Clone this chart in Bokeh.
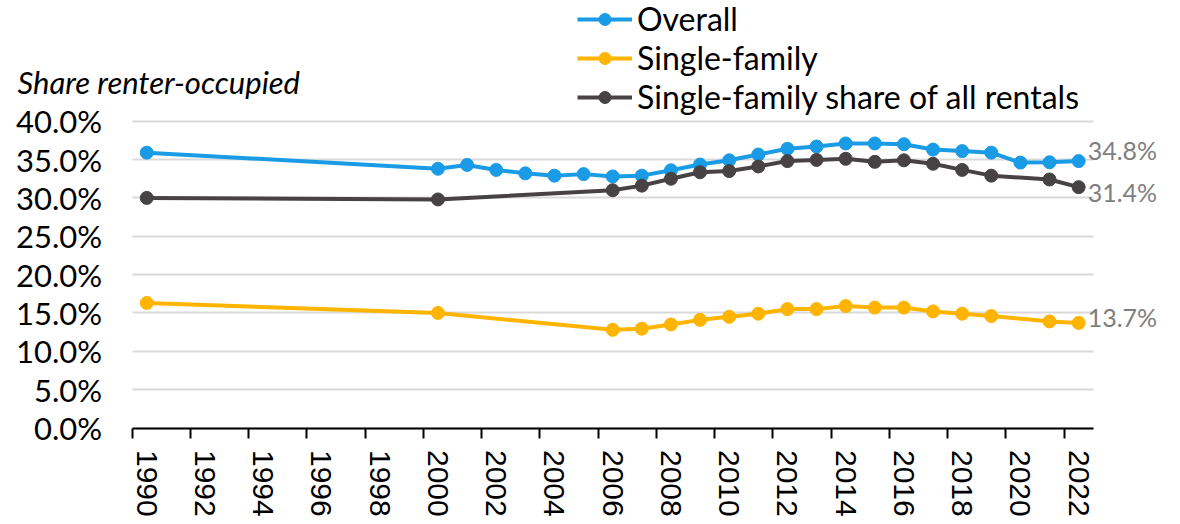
from bokeh.plotting import figure
from bokeh.models import (ColumnDataSource, FixedTicker, PrintfTickFormatter,
                          Legend, LegendItem, Label, Range1d)
from bokeh.embed import file_html
from bokeh.resources import INLINE

# ---- data ----
overall_years = [1990, 2000, 2001, 2002, 2003, 2004, 2005, 2006, 2007, 2008, 2009,
                 2010, 2011, 2012, 2013, 2014, 2015, 2016, 2017, 2018, 2019, 2020,
                 2021, 2022]
overall = [35.9, 33.8, 34.3, 33.65, 33.2, 32.9, 33.1, 32.8, 32.9, 33.6, 34.35,
           34.9, 35.65, 36.4, 36.7, 37.1, 37.1, 37.0, 36.3, 36.1, 35.9, 34.6,
           34.65, 34.8]

sf_years = [1990, 2000, 2006, 2007, 2008, 2009, 2010, 2011, 2012, 2013, 2014,
            2015, 2016, 2017, 2018, 2019, 2021, 2022]
single_family = [16.3, 15.0, 12.8, 12.95, 13.5, 14.1, 14.5, 14.9, 15.5, 15.5,
                 15.9, 15.7, 15.7, 15.2, 14.9, 14.6, 13.9, 13.7]
sf_share = [30.0, 29.8, 31.0, 31.6, 32.5, 33.35, 33.5, 34.1, 34.8, 34.95, 35.1,
            34.7, 34.9, 34.45, 33.65, 32.9, 32.4, 31.4]

x_tick_years = list(range(1990, 2023, 2))
x_tick_marks = [y - 0.5 for y in x_tick_years]
x_bounds = (1989.5, 2022.5)
y_ticks = [0, 5, 10, 15, 20, 25, 30, 35, 40]

series_names = ["Overall", "Single-family", "Single-family share of all rentals"]
colors = ["#1A9BE6", "#FFB400", "#474344"]
title_text = "Share renter-occupied"

FONT = "Lato"

# ---- layout geometry (pixels inside the canvas) ----
W, H = 1176, 520
AX_LEFT_PX, AX_RIGHT_PX = 131.7, 1092.7   # x-axis line ends
Y40_PX, Y0_PX = 120.7, 427.5              # rows of the 40% line and of the axis

x_scale = (AX_RIGHT_PX - AX_LEFT_PX) / (x_bounds[1] - x_bounds[0])
x_start = x_bounds[0] - AX_LEFT_PX / x_scale
x_end = x_bounds[1] + (W - AX_RIGHT_PX) / x_scale
y_scale = (Y0_PX - Y40_PX) / 40.0
y_end = 40 + Y40_PX / y_scale
y_start = -(H - Y0_PX) / y_scale

p = figure(width=W, height=H, output_backend="svg", toolbar_location=None,
           x_range=Range1d(x_start, x_end), y_range=Range1d(y_start, y_end),
           min_border_left=0, min_border_right=0, min_border_top=0,
           min_border_bottom=0)
p.outline_line_color = None
p.background_fill_color = "white"
p.border_fill_color = "white"

# grid
p.xgrid.grid_line_color = None
p.ygrid.ticker = FixedTicker(ticks=y_ticks)
p.ygrid.grid_line_color = "#D9D9D9"
p.ygrid.grid_line_width = 2
try:
    p.ygrid.cross_bounds = x_bounds
except Exception:
    p.ygrid.grid_line_color = None
    p.segment(x0=[x_bounds[0]] * len(y_ticks), x1=[x_bounds[1]] * len(y_ticks),
              y0=y_ticks, y1=y_ticks, line_color="#D9D9D9", line_width=2)

# y axis, pinned to the left end of the x axis
p.yaxis.fixed_location = x_bounds[0]
p.yaxis.ticker = FixedTicker(ticks=y_ticks)
p.yaxis.formatter = PrintfTickFormatter(format="%.1f%%")
p.yaxis.axis_line_color = None
p.yaxis.major_tick_line_color = None
p.yaxis.minor_tick_line_color = None
p.yaxis.major_tick_out = 0
p.yaxis.major_tick_in = 0
p.yaxis.major_label_standoff = 30
p.yaxis.major_label_text_font = FONT
p.yaxis.major_label_text_font_size = "31px"
p.yaxis.major_label_text_color = "#000000"

# x axis, pinned at 0
p.xaxis.fixed_location = 0
p.xaxis.bounds = x_bounds
p.xaxis.ticker = FixedTicker(ticks=x_tick_years, minor_ticks=x_tick_marks)
p.xaxis.major_label_overrides = {y: str(y) for y in x_tick_years}
p.xaxis.axis_line_color = "#000000"
p.xaxis.axis_line_width = 2
p.xaxis.major_tick_line_color = None
p.xaxis.major_tick_out = 10
p.xaxis.major_tick_in = 0
p.xaxis.minor_tick_line_color = "#000000"
p.xaxis.minor_tick_line_width = 2
p.xaxis.minor_tick_out = 10
p.xaxis.minor_tick_in = 0
p.xaxis.major_label_orientation = "vertical"
p.xaxis.major_label_standoff = 12
p.xaxis.major_label_text_font = "Liberation Sans"
p.xaxis.major_label_text_font_size = "30px"
p.xaxis.major_label_text_color = "#000000"

# series
srcs = [
    ColumnDataSource(dict(x=overall_years, y=overall)),
    ColumnDataSource(dict(x=sf_years, y=single_family)),
    ColumnDataSource(dict(x=sf_years, y=sf_share)),
]
items = []
for src, name, col in zip(srcs, series_names, colors):
    ln = p.line("x", "y", source=src, line_color=col, line_width=4)
    sc = p.scatter("x", "y", source=src, size=13, fill_color=col, line_color=col)
    items.append(LegendItem(label=name, renderers=[ln, sc]))

legend = Legend(items=items, location=(577, H - 116), orientation="vertical",
                label_text_font=FONT, label_text_font_size="32px",
                label_text_color="#000000", glyph_width=55, glyph_height=30,
                label_height=30, spacing=-5, padding=0, margin=0,
                border_line_color=None, background_fill_alpha=0,
                label_standoff=5)
p.add_layout(legend, "center")

# end labels
end_offsets = [11, 6, -5]
for xs, ys, dy in [(overall_years, overall, end_offsets[0]),
                   (sf_years, single_family, end_offsets[1]),
                   (sf_years, sf_share, end_offsets[2])]:
    p.add_layout(Label(x=xs[-1], y=ys[-1], text=f"{ys[-1]:.1f}%", x_offset=9,
                       y_offset=dy, text_baseline="middle", text_align="left",
                       text_font=FONT, text_font_size="25px",
                       text_color="#7F7F7F"))

# title
p.add_layout(Label(x=17, y=H - 81, x_units="screen", y_units="screen",
                   text=title_text, text_font=FONT, text_font_style="italic",
                   text_font_size="31px", text_color="#000000",
                   text_baseline="alphabetic"))

open("out.html", "w").write(file_html(p, INLINE))
